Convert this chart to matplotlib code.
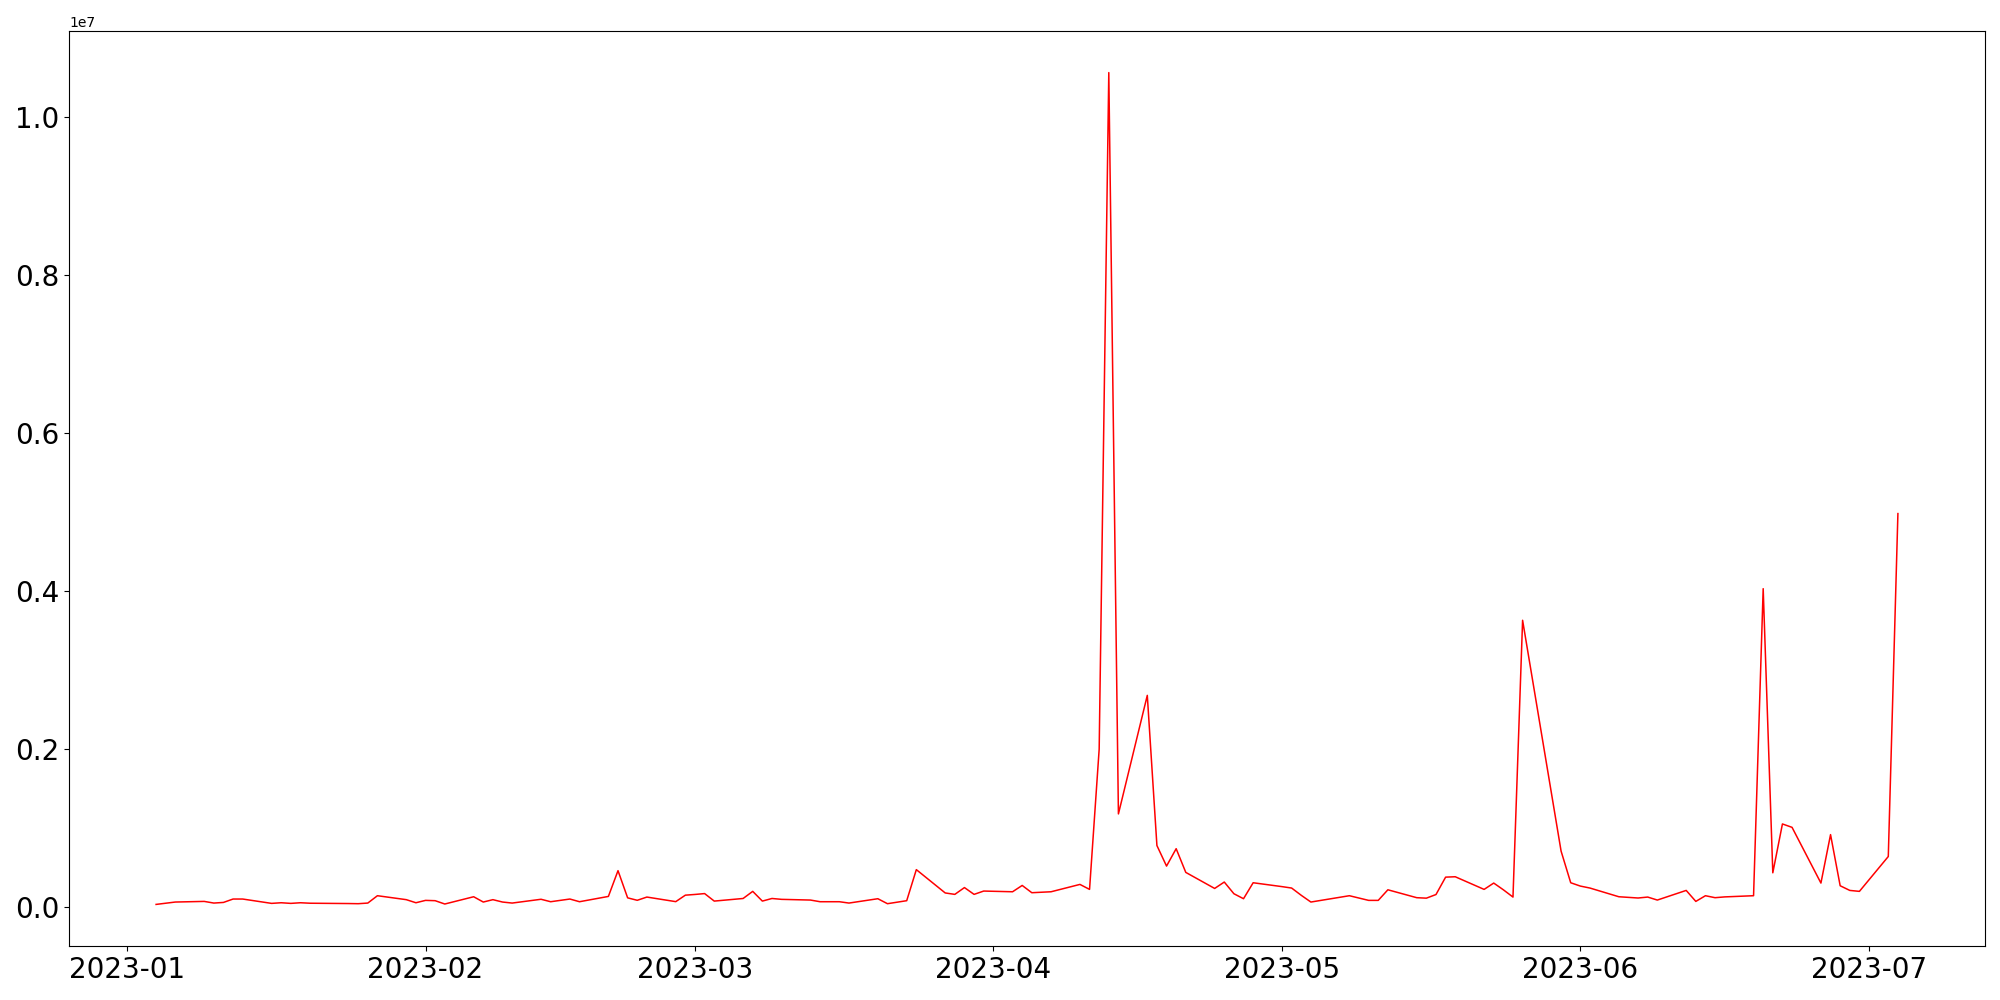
import matplotlib
matplotlib.use("Agg")
import matplotlib.pyplot as plt
import pandas as pd

dates = [
    "2023-01-04", "2023-01-05", "2023-01-06", "2023-01-09", "2023-01-10", "2023-01-11",
    "2023-01-12", "2023-01-13", "2023-01-16", "2023-01-17", "2023-01-18", "2023-01-19",
    "2023-01-20", "2023-01-23", "2023-01-24", "2023-01-25", "2023-01-26", "2023-01-27",
    "2023-01-30", "2023-01-31",
    "2023-02-01", "2023-02-02", "2023-02-03", "2023-02-06", "2023-02-07", "2023-02-08",
    "2023-02-09", "2023-02-10", "2023-02-13", "2023-02-14", "2023-02-15", "2023-02-16",
    "2023-02-17", "2023-02-20", "2023-02-21", "2023-02-22", "2023-02-23", "2023-02-24",
    "2023-02-27", "2023-02-28",
    "2023-03-01", "2023-03-02", "2023-03-03", "2023-03-06", "2023-03-07", "2023-03-08",
    "2023-03-09", "2023-03-10", "2023-03-13", "2023-03-14", "2023-03-15", "2023-03-16",
    "2023-03-17", "2023-03-20", "2023-03-21", "2023-03-22", "2023-03-23", "2023-03-24",
    "2023-03-27", "2023-03-28", "2023-03-29", "2023-03-30", "2023-03-31",
    "2023-04-03", "2023-04-04", "2023-04-05", "2023-04-06", "2023-04-07", "2023-04-10",
    "2023-04-11", "2023-04-12", "2023-04-13", "2023-04-14", "2023-04-17", "2023-04-18",
    "2023-04-19", "2023-04-20", "2023-04-21", "2023-04-24", "2023-04-25", "2023-04-26",
    "2023-04-27", "2023-04-28",
    "2023-05-01", "2023-05-02", "2023-05-03", "2023-05-04", "2023-05-05", "2023-05-08",
    "2023-05-09", "2023-05-10", "2023-05-11", "2023-05-12", "2023-05-15", "2023-05-16",
    "2023-05-17", "2023-05-18", "2023-05-19", "2023-05-22", "2023-05-23", "2023-05-24",
    "2023-05-25", "2023-05-26", "2023-05-29", "2023-05-30", "2023-05-31",
    "2023-06-01", "2023-06-02", "2023-06-05", "2023-06-06", "2023-06-07", "2023-06-08",
    "2023-06-09", "2023-06-12", "2023-06-13", "2023-06-14", "2023-06-15", "2023-06-16",
    "2023-06-19", "2023-06-20", "2023-06-21", "2023-06-22", "2023-06-23", "2023-06-26",
    "2023-06-27", "2023-06-28", "2023-06-29", "2023-06-30",
    "2023-07-03", "2023-07-04",
]

values = [
    35000, 50000, 65000, 73000, 52000, 60000,
    103000, 103000, 48000, 56000, 48000, 56000,
    50000, 48000, 46000, 44000, 52000, 145000,
    95000, 56000,
    86000, 82000, 40000, 132000, 65000, 95000,
    65000, 52000, 100000, 69000, 86000, 103000,
    69000, 136000, 462000, 118000, 87000, 128000,
    70000, 152000,
    161000, 172000, 77000, 110000, 200000, 77000,
    110000, 99000, 90000, 69000, 69000, 69000,
    52000, 107000, 44000, 63000, 82000, 475000,
    180000, 162000, 248000, 162000, 204000,
    195000, 275000, 183000, 189000, 195000, 288000,
    225000, 2000000, 10560000, 1180000, 2680000, 780000,
    520000, 740000, 440000, 237000, 318000, 170000,
    107000, 309000,
    260000, 242000, 150000, 65000, 85000, 145000,
    115000, 86000, 86000, 220000, 120000, 114000,
    160000, 380000, 385000, 225000, 305000, 220000,
    128000, 3630000, 1440000, 709000, 309000,
    267000, 242000, 132000, 124000, 116000, 128000,
    90000, 212000, 73000, 145000, 120000, 130000,
    145000, 4030000, 435000, 1053000, 1010000, 305000,
    918000, 271000, 212000, 200000,
    641000, 4980000,
]

x = pd.to_datetime(dates)

fig, ax = plt.subplots(figsize=(20, 10), dpi=100)
ax.plot(x, values, color="red", linewidth=1.1)
ax.tick_params(axis="both", labelsize=20)
fig.subplots_adjust(left=0.0345, right=0.9925, top=0.969, bottom=0.054)
fig.savefig("out.png", dpi=100)
